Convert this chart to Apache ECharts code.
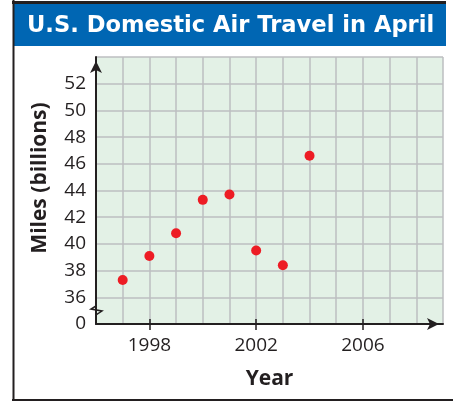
<!DOCTYPE html>
<html>
<head>
<meta charset="utf-8">
<script src="https://cdn.jsdelivr.net/npm/echarts@6/dist/echarts.min.js"></script>
<style>
  html, body { margin: 0; padding: 0; background: #fff; }
  #container { width: 453px; height: 402px; }
</style>
</head>
<body>
<div id="container"></div>
<script>
var years = [1997, 1998, 1999, 2000, 2001, 2002, 2003, 2004];
var miles = [37.3, 39.1, 40.8, 43.3, 43.7, 39.5, 38.4, 46.6];
var yearLabels = [1998, 2002, 2006];

var points = [];
for (var i = 0; i < years.length; i++) {
    points.push([years[i], miles[i]]);
}

var dom = document.getElementById('container');
var myChart = echarts.init(dom);
var ink = '#231f20';
var font = '"Open Sans", "Noto Sans", sans-serif';

var option = {
    animation: false,
    title: {
        text: 'U.S. Domestic Air Travel in April',
        left: 22,
        top: 10,
        padding: 5,
        textStyle: {color: '#fff', fontSize: 22.6, fontWeight: 'bold', fontFamily: '"DejaVu Sans", sans-serif'}
    },
    grid: {left: 96, right: 10, top: 57, bottom: 78},
    xAxis: [
        {
            type: 'value',
            min: 1996,
            max: 2009,
            interval: 1,
            name: 'Year',
            nameLocation: 'middle',
            nameGap: 45,
            nameTextStyle: {color: ink, fontSize: 21, fontWeight: 'bold', fontFamily: font},
            axisLine: {lineStyle: {color: ink, width: 2}, symbol: ['none', 'arrow'], symbolSize: [9, 12], symbolOffset: [0, -4]},
            axisTick: {show: true, length: 6, customValues: yearLabels, lineStyle: {color: ink, width: 1.5}},
            axisLabel: {customValues: yearLabels, color: ink, fontSize: 19, fontFamily: font, margin: 12,
                formatter: function (v) { return String(v); }},
            splitLine: {show: false}
        },
        {
            type: 'value',
            position: 'bottom',
            min: 1996,
            max: 2009,
            interval: 1,
            axisLine: {show: false},
            axisTick: {show: true, inside: true, length: 5, customValues: yearLabels, lineStyle: {color: ink, width: 1.5}},
            axisLabel: {show: false},
            splitLine: {show: false}
        },
        {
            type: 'value',
            position: 'bottom',
            min: 1996,
            max: 2009,
            interval: 1,
            z: 0,
            axisLine: {show: false},
            axisTick: {show: false},
            axisLabel: {show: false},
            splitLine: {show: true, lineStyle: {color: '#bcbec0', width: 1.5}}
        }
    ],
    yAxis: {
        type: 'value',
        min: 34,
        max: 54,
        interval: 2,
        axisLine: {show: true, lineStyle: {color: ink, width: 2}, symbol: ['none', 'arrow'], symbolSize: [9, 12], symbolOffset: [0, -4]},
        axisTick: {show: false},
        axisLabel: {
            color: ink, fontSize: 19, fontFamily: font, margin: 10,
            formatter: function (v) {
                if (v === 34) return '0';
                if (v === 54) return '';
                return v;
            }
        },
        splitLine: {show: true, lineStyle: {color: '#bcbec0', width: 1.5}},
        splitArea: {show: true, areaStyle: {color: ['#e3f1e6', '#e3f1e6']}}
    },
    graphic: [
        {type: 'rect', shape: {x: 14, y: 4, width: 432, height: 42}, style: {fill: '#0066b3'}, z: -1},
        {type: 'line', shape: {x1: 12, y1: 2.5, x2: 446, y2: 2.5}, style: {stroke: ink, lineWidth: 3}},
        {type: 'line', shape: {x1: 13.5, y1: 0, x2: 13.5, y2: 401}, style: {stroke: ink, lineWidth: 2}},
        {type: 'line', shape: {x1: 12, y1: 400, x2: 453, y2: 400}, style: {stroke: ink, lineWidth: 2}},
        {
            type: 'text', x: 40, y: 178, rotation: Math.PI / 2,
            style: {text: 'Miles (billions)', fill: ink, font: 'bold 21px "Open Sans", sans-serif', align: 'center', verticalAlign: 'middle'}
        },
        {
            type: 'polyline', z: 100,
            shape: {points: [[96, 302], [96, 306], [91, 309], [102, 311], [96, 315], [96, 318]]},
            style: {stroke: ink, lineWidth: 1.5, fill: null}
        }
    ],
    series: [
        {
            type: 'scatter',
            data: points,
            symbolSize: 10,
            itemStyle: {color: '#ed1c24', opacity: 1},
            z: 10
        }
    ]
};
myChart.setOption(option);
</script>
</body>
</html>
